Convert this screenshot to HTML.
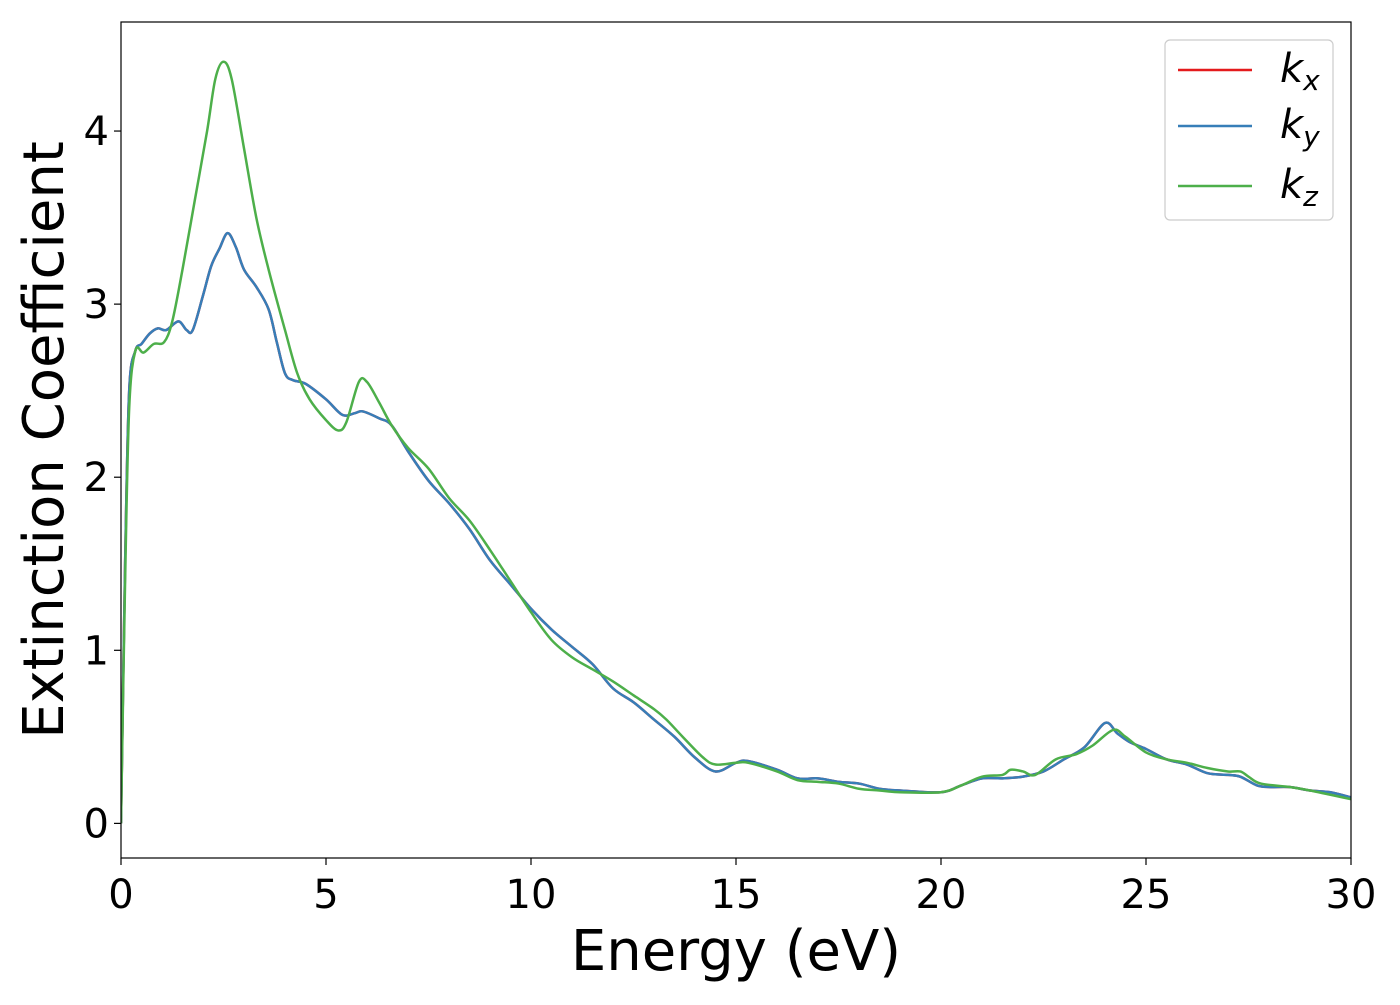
<!DOCTYPE html>
<html><head><meta charset="utf-8"><style>
body{margin:0;background:#fff}
svg text{font-family:"DejaVu Sans","Liberation Sans",sans-serif}
</style></head><body>
<svg id="c" width="1400" height="1000" xmlns="http://www.w3.org/2000/svg"></svg>
<script>
const xTicks=[0,5,10,15,20,25,30];
const yTicks=[0,1,2,3,4];
const exE=[0,0.1,0.2,0.35,0.5,0.7,0.9,1.1,1.4,1.6,1.75,2.0,2.2,2.4,2.6,2.8,3.0,3.3,3.6,3.8,4.0,4.2,4.5,5.0,5.4,5.7,5.9,6.3,6.6,7.0,7.5,8,8.5,9,9.5,10,10.5,11,11.5,12,12.5,13,13.5,14,14.5,15,15.3,16,16.5,17,17.5,18,18.5,19,20,20.5,21,21.5,22,22.5,23,23.5,24,24.3,24.6,25,25.5,26,26.5,27,27.3,27.7,28,28.5,29,29.5,30];
const kxy=[0,1.5,2.5,2.73,2.77,2.83,2.86,2.85,2.9,2.85,2.85,3.05,3.22,3.32,3.41,3.33,3.2,3.1,2.97,2.78,2.6,2.56,2.54,2.45,2.36,2.37,2.38,2.34,2.3,2.15,1.98,1.85,1.7,1.52,1.38,1.24,1.12,1.02,0.92,0.78,0.7,0.6,0.5,0.38,0.3,0.35,0.36,0.31,0.26,0.26,0.24,0.23,0.2,0.19,0.18,0.22,0.26,0.26,0.27,0.3,0.37,0.44,0.58,0.52,0.47,0.43,0.37,0.34,0.29,0.28,0.27,0.22,0.21,0.21,0.19,0.18,0.15];
const ezE=[0,0.1,0.2,0.35,0.55,0.8,1.05,1.25,1.5,1.8,2.1,2.3,2.5,2.7,3.0,3.3,3.6,4.0,4.3,4.6,5.0,5.3,5.5,5.8,6.0,6.3,6.6,7.0,7.5,8,8.5,9,9.5,10,10.5,11,11.5,12,12.5,13,13.3,13.7,14.2,14.5,15,15.3,16,16.5,17,17.5,18,18.5,19,20,20.5,21,21.5,21.7,22,22.3,22.8,23.3,23.7,24.2,24.5,25,25.5,26,26.5,27,27.3,27.5,27.8,28.5,29,30];
const kz=[0,1.4,2.4,2.73,2.72,2.77,2.78,2.9,3.2,3.6,4.0,4.3,4.4,4.3,3.9,3.5,3.2,2.85,2.6,2.45,2.33,2.27,2.32,2.55,2.55,2.43,2.3,2.17,2.05,1.88,1.75,1.58,1.4,1.22,1.06,0.96,0.89,0.82,0.74,0.66,0.6,0.5,0.38,0.34,0.35,0.35,0.3,0.25,0.24,0.23,0.2,0.19,0.18,0.18,0.22,0.27,0.28,0.31,0.3,0.28,0.37,0.4,0.45,0.54,0.5,0.41,0.37,0.35,0.32,0.3,0.3,0.27,0.23,0.21,0.19,0.14];
const L=121,R=1351,T=22,B=858,ymin=-0.2,ymax=4.63;
const X=v=>L+(v-0)/30*(R-L), Y=v=>B-(v-ymin)/(ymax-ymin)*(B-T);
const s=document.getElementById('c');const NS='http://www.w3.org/2000/svg';
function el(t,a,p){const e=document.createElementNS(NS,t);for(const k in a)e.setAttribute(k,a[k]);(p||s).appendChild(e);return e;}
function path(xs,ys){const P=xs.map((x,i)=>[X(x),Y(ys[i])]);let d='M'+P[0][0]+','+P[0][1];
for(let i=0;i<P.length-1;i++){const p0=P[Math.max(0,i-1)],p1=P[i],p2=P[i+1],p3=P[Math.min(P.length-1,i+2)];
d+=' C'+(p1[0]+(p2[0]-p0[0])/6)+','+(p1[1]+(p2[1]-p0[1])/6)+' '+(p2[0]-(p3[0]-p1[0])/6)+','+(p2[1]-(p3[1]-p1[1])/6)+' '+p2[0]+','+p2[1];}return d;}
const g=el('g',{'clip-path':'url(#cp)'});
const cp=el('clipPath',{id:'cp'});el('rect',{x:L,y:T,width:R-L,height:B-T},cp);
let e;
e=el('path',{d:path(exE,kxy),fill:'none',stroke:'#e41a1c','stroke-width':2.5},g);

e=el('path',{d:path(exE,kxy),fill:'none',stroke:'#377eb8','stroke-width':2.5},g);

e=el('path',{d:path(ezE,kz),fill:'none',stroke:'#4daf4a','stroke-width':2.5},g);

e=el('rect',{x:L,y:T,width:R-L,height:B-T,fill:'none',stroke:'#000','stroke-width':1.2});

xTicks.forEach(v=>{el('line',{x1:X(v),x2:X(v),y1:B,y2:B+7,stroke:'#000','stroke-width':1.2});
e=el('text',{x:X(v),y:B+50,'font-size':40,'text-anchor':'middle'});e.textContent=v;
});
yTicks.forEach(v=>{el('line',{x1:L-7,x2:L,y1:Y(v),y2:Y(v),stroke:'#000','stroke-width':1.2});
e=el('text',{x:L-12,y:Y(v)+14,'font-size':40,'text-anchor':'end'});e.textContent=v;
});
e=el('text',{x:736,y:970,'font-size':56,'text-anchor':'middle'});e.textContent='Energy (eV)';

e=el('text',{x:0,y:0,'font-size':56,'text-anchor':'middle',transform:'translate(63,440) rotate(-90)'});e.textContent='Extinction Coefficient';

const lg=el('g',{});
el('rect',{x:1165,y:40,width:168,height:180,rx:5,fill:'#fff',stroke:'#ccc','stroke-width':1.2},lg);
[['x','#e41a1c',70],['y','#377eb8',126],['z','#4daf4a',186]].forEach(([sub,c,y])=>{
el('line',{x1:1178,x2:1252,y1:y,y2:y,stroke:c,'stroke-width':2.5},lg);
const t=el('text',{x:1280,y:y+12,'font-size':40,'font-style':'italic'},lg);

t.innerHTML='k<tspan font-size="28" dy="8">'+sub+'</tspan>';});
</script>
</body></html>
